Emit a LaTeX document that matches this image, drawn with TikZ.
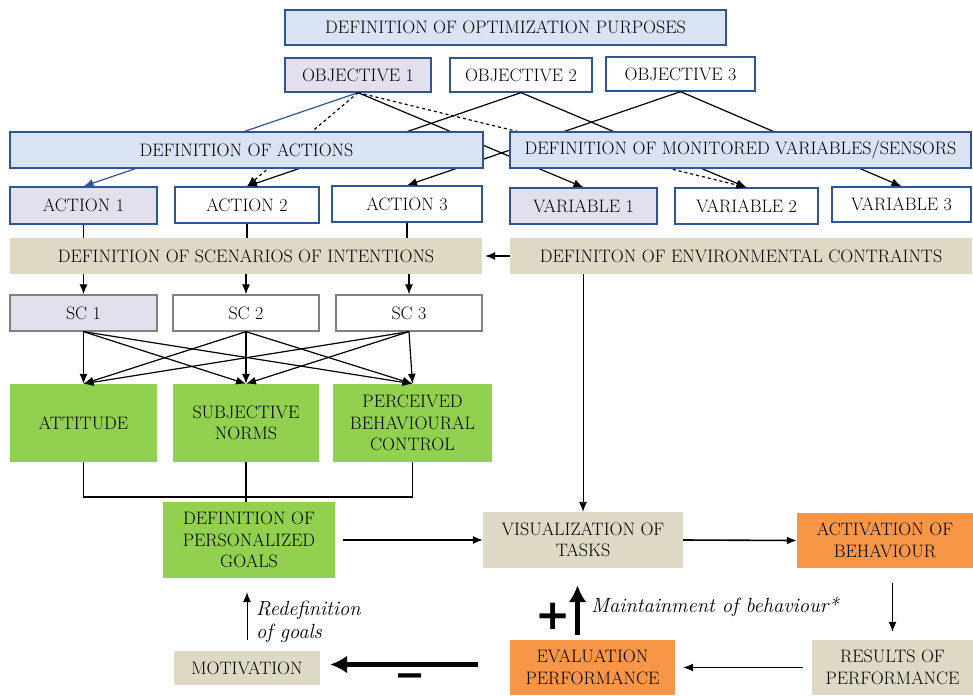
\documentclass[tikz,border=0pt]{standalone}
\usepackage{fontspec}
\newfontfamily\signfont{DejaVu Sans}
\usepackage{tikz}
\usetikzlibrary{arrows.meta}
\definecolor{defblue}{HTML}{DAE3F3}
\definecolor{edgeblue}{HTML}{2F5597}
\definecolor{lilac}{HTML}{E4DFEC}
\definecolor{sand}{HTML}{DDD9C4}
\definecolor{leaf}{HTML}{92D050}
\definecolor{tangerine}{HTML}{F79646}

\begin{document}
\begin{tikzpicture}[x=1pt,y=-1pt,>={Latex[length=10pt,width=8pt]},
  every node/.style={font=\fontsize{18}{21.5}\selectfont,align=center,inner sep=0pt},
  blubox/.style={draw=edgeblue,line width=1.3pt,fill=white,minimum height=35pt},
  defbox/.style={blubox,fill=defblue,minimum height=36pt},
  pickbox/.style={blubox,fill=lilac},
  scbox/.style={draw=black!50,line width=1.3pt,fill=white,minimum width=146pt,minimum height=36pt},
  sandbox/.style={fill=sand},
  leafbox/.style={fill=leaf},
  orangebox/.style={fill=tangerine},
  note/.style={align=left,font=\itshape\fontsize{20.5}{23}\selectfont},
  sign/.style={font=\signfont\bfseries\fontsize{42}{42}\selectfont},
  link/.style={->,line width=1.2pt},
  fat/.style={-{Latex[length=17pt,width=18pt]},line width=5pt}]
 \useasboundingbox (0,0) rectangle (973,695);

 \draw (505.5,27.5) node[defbox,minimum width=441pt,minimum height=35pt] (purpose) {DEFINITION OF OPTIMIZATION PURPOSES};
 \draw (358,75) node[pickbox,minimum width=146pt,minimum height=34pt] (obj1) {OBJECTIVE 1};
 \draw (521,75) node[blubox,minimum width=142pt,minimum height=34pt] (obj2) {OBJECTIVE 2};
 \draw (680.5,74) node[blubox,minimum width=149pt,minimum height=34pt] (obj3) {OBJECTIVE 3};

 \draw (83.5,205.5) node[pickbox,minimum width=147pt,minimum height=37pt] (act1) {ACTION 1};
 \draw (247,205) node[blubox,minimum width=144pt,minimum height=36pt] (act2) {ACTION 2};
 \draw (407,204) node[blubox,minimum width=150pt,minimum height=36pt] (act3) {ACTION 3};
 \draw (583.5,206) node[pickbox,minimum width=147pt,minimum height=36pt] (var1) {VARIABLE 1};
 \draw (746.5,206) node[blubox,minimum width=143pt,minimum height=36pt] (var2) {VARIABLE 2};
 \draw (901.5,204.5) node[blubox,minimum width=139pt,minimum height=35pt] (var3) {VARIABLE 3};

     \path[link,color=edgeblue] (obj1.south) edge (act1.north);
     \path[link,dashed] (obj1.south) edge (act2.north);
     \path[link] (obj1.south) edge (var1.north);
     \path[link,dashed] (obj1.south) edge (var2.north);
     \path[link] (obj2.south) edge (act2.north);
     \path[link] (obj2.south) edge (var2.north);
     \path[link] (obj3.south) edge (act3.north);
     \path[link] (obj3.south) edge (var3.north);

 \draw (246.5,150) node[defbox,minimum width=473pt] (defact) {DEFINITION OF ACTIONS};
 \draw (740.5,150) node[defbox,minimum width=461pt] (defmon) {DEFINITION OF MONITORED VARIABLES/SENSORS};

 \draw (246,256) node[sandbox,minimum width=472pt,minimum height=36pt] (defscen) {DEFINITION OF SCENARIOS OF INTENTIONS};
 \draw (741,256) node[sandbox,minimum width=462pt,minimum height=36pt] (defenv) {DEFINITON OF ENVIRONMENTAL CONTRAINTS};

 \draw (83.5,313) node[scbox,fill=lilac,minimum width=147pt] (sc1) {SC 1};
 \draw (246,313) node[scbox] (sc2) {SC 2};
 \draw (409,313) node[scbox] (sc3) {SC 3};

 \draw (83.5,423) node[leafbox,minimum width=147pt,minimum height=78pt] (att) {ATTITUDE};
 \draw (246,423) node[leafbox,minimum width=146pt,minimum height=78pt] (subj) {SUBJECTIVE\\NORMS};
 \draw (412.5,423) node[leafbox,minimum width=159pt,minimum height=78pt] (pbc) {PERCEIVED\\BEHAVIOURAL\\CONTROL};

 \draw (249,540) node[leafbox,minimum width=172pt,minimum height=76pt] (goals) {DEFINITION OF\\PERSONALIZED\\GOALS};
 \draw (583,540) node[sandbox,minimum width=200pt,minimum height=56pt] (vis) {VISUALIZATION OF\\TASKS};
 \draw (885,540.5) node[orangebox,minimum width=176pt,minimum height=55pt] (activ) {ACTIVATION OF\\BEHAVIOUR};
 \draw (892.5,667.5) node[sandbox,minimum width=161pt,minimum height=55pt] (results) {RESULTS OF\\PERFORMANCE};
 \draw (592.5,667.5) node[orangebox,minimum width=165pt,minimum height=55pt] (eval) {EVALUATION\\PERFORMANCE};
 \draw (247,668) node[sandbox,minimum width=146pt,minimum height=34pt] (motiv) {MOTIVATION};

     \path[line width=1.2pt] (act1.south) edge (act1.south |- defscen.north);
     \path[line width=1.2pt] (act2.south) edge (act2.south |- defscen.north);
     \path[line width=1.2pt] (act3.south) edge (act3.south |- defscen.north);
     \path[link,shorten >=3pt] (defenv.west) edge (defscen.east);
     \path[link] (sc1 |- defscen.south) edge (sc1.north);
     \path[link] (sc2 |- defscen.south) edge (sc2.north);
     \path[link] (sc3 |- defscen.south) edge (sc3.north);
     \foreach \s in {sc1,sc2,sc3}
       \foreach \g in {att,subj,pbc}
         \path[link] (\s.south) edge (\g.north);

 \coordinate (bar) at (0,497);
 \draw[line width=1.2pt] (att.south) -- (att.south |- bar) -- (pbc.south |- bar) -- (pbc.south);
 \draw[line width=1.2pt] (subj.south) -- (subj.south |- goals.north);

     \path[link,line width=0.9pt] (vis.north |- defenv.south) edge (vis.north);
     \path[link,shorten <=8pt] (goals.east) edge (vis.west);
     \path[link,line width=1.6pt] (vis.east) edge (activ.west);
     \path[link,shorten <=15pt,shorten >=8pt] (activ.south -| results.north) edge (results.north);
     \path[link,shorten <=9pt,shorten >=8pt] (results.west) edge (eval.east);
     \path[fat,shorten <=32pt,shorten >=10pt] ([yshift=3pt]eval.west) edge ([yshift=3pt]eval.west -| motiv.east);
     \path[fat,shorten <=5pt,shorten >=17pt] ([xshift=-15pt]eval.north) edge ([xshift=-15pt]eval.north |- vis.south);
     \path[link,line width=0.9pt,shorten <=11pt,shorten >=14pt] (motiv.north) edge (motiv.north |- goals.south);

 \draw (591,612) node[note,anchor=base west] (keep) {Maintainment of behaviour*};
 \draw (256,601) node[note,anchor=north west] (redef) {Redefinition\\of goals};
 \draw (553,616) node[sign] (plus) {+};
 \draw (410,687) node[sign,font=\signfont\bfseries\fontsize{37}{37}\selectfont,anchor=base] (minus) {−};
\end{tikzpicture}
\end{document}
